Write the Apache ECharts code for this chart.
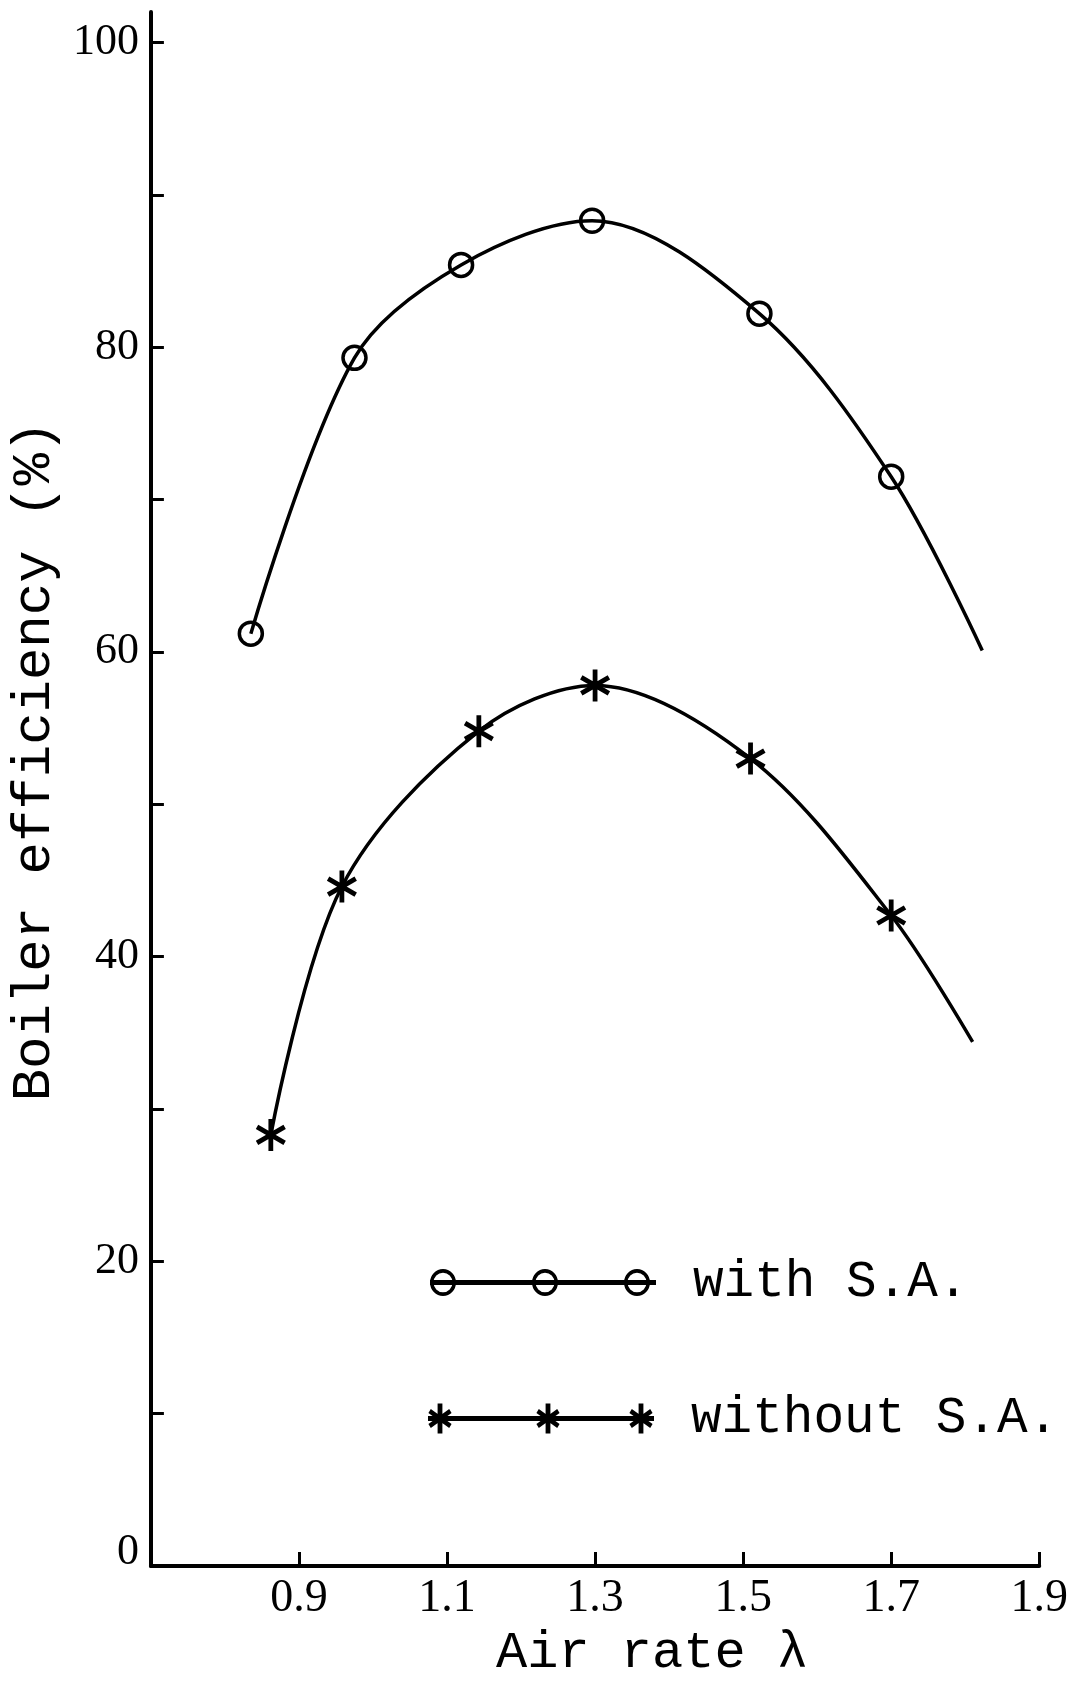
<!DOCTYPE html>
<html><head><meta charset="utf-8">
<script src="https://cdn.jsdelivr.net/npm/echarts@6/dist/echarts.min.js"></script>
<style>html,body{margin:0;padding:0;background:#fff}#c{width:1071px;height:1684px}</style>
</head><body><div id="c"></div>
<script>
// ---- data ----
const seriesNames = ['with S.A.', 'without S.A.'];
// last point of each list = where the drawn curve ends (no marker there)
const withX    = [0.835, 0.975, 1.119, 1.296, 1.522, 1.700, 1.823];
const withY    = [61.2, 79.3, 85.4, 88.3, 82.2, 71.5, 60.1];
const withoutX = [0.862, 0.958, 1.143, 1.300, 1.510, 1.700, 1.810];
const withoutY = [28.3, 44.6, 54.8, 57.8, 53.0, 42.7, 34.4];
const xTicks = [0.9, 1.1, 1.3, 1.5, 1.7, 1.9];
const yTicks = [0, 10, 20, 30, 40, 50, 60, 70, 80, 90, 100];
const yLabels = [0, 20, 40, 60, 80, 100];
const xName = 'Air rate λ';
const yName = 'Boiler efficiency (%)';

// ---- symbol / legend icon shapes ----
function barPath(cx, cy, ang, hlx, hly, hw) {
  const dx = Math.cos(ang), dy = Math.sin(ang), nx = -dy, ny = dx;
  const p = [
    [cx - hlx*dx - hw*nx, cy - hly*dy - hw*ny],
    [cx + hlx*dx - hw*nx, cy + hly*dy - hw*ny],
    [cx + hlx*dx + hw*nx, cy + hly*dy + hw*ny],
    [cx - hlx*dx + hw*nx, cy - hly*dy + hw*ny]
  ];
  return 'M' + p.map(q => q[0].toFixed(2) + ' ' + q[1].toFixed(2)).join(' L') + ' Z ';
}
function starPath(cx, cy, rx, ry, hw) {
  return barPath(cx, cy, Math.PI/2, rx, ry, hw) + barPath(cx, cy, Math.PI/6, rx, ry, hw) + barPath(cx, cy, 5*Math.PI/6, rx, ry, hw);
}
function ringPath(cx, cy, R, r) {
  return 'M' + (cx-R) + ' ' + cy + ' A' + R + ' ' + R + ' 0 1 1 ' + (cx+R) + ' ' + cy +
         ' A' + R + ' ' + R + ' 0 1 1 ' + (cx-R) + ' ' + cy + ' Z ' +
         'M' + (cx-r) + ' ' + cy + ' A' + r + ' ' + r + ' 0 1 0 ' + (cx+r) + ' ' + cy +
         ' A' + r + ' ' + r + ' 0 1 0 ' + (cx-r) + ' ' + cy + ' Z ';
}
const starSymbol = 'path://' + starPath(10, 10, 10, 10, 1.5);
const LW = 226;
const withIcon = 'path://M0 11 L' + LW + ' 11 L' + LW + ' 16 L0 16 Z ' +
  ringPath(13, 13.5, 13, 9.5) + ringPath(115, 13.5, 13, 9.5) + ringPath(207, 13.5, 13, 9.5);
const withoutIcon = 'path://M0 12.5 L' + LW + ' 12.5 L' + LW + ' 17.5 L0 17.5 Z ' +
  starPath(12, 15, 12, 15, 2.4) + starPath(120, 15, 12, 15, 2.4) + starPath(213, 15, 12, 15, 2.4);

function toData(xs, ys) {
  return xs.map((x, i) => i === xs.length - 1 ? {value: [x, ys[i]], symbol: 'none'} : [x, ys[i]]);
}

const chart = echarts.init(document.getElementById('c'), null, {renderer: 'canvas'});
const legendText = {fontFamily: 'Liberation Mono', fontSize: 51, color: '#000', padding: [0, 0, 0, 32]};
chart.setOption({
  animation: false,
  backgroundColor: '#fff',
  grid: {left: 146, top: 12, width: 897, height: 1565, containLabel: false},
  xAxis: {
    type: 'value', min: 0.7, max: 1.9,
    name: xName, nameLocation: 'middle', nameGap: 60,
    nameTextStyle: {fontFamily: 'Liberation Mono', fontSize: 52, color: '#000', padding: [0, 0, 0, 114]},
    axisLine: {show: true, onZero: false, lineStyle: {color: '#000', width: 4}},
    axisTick: {show: true, inside: true, length: 14, lineStyle: {color: '#000', width: 3}, customValues: xTicks},
    axisLabel: {show: true, customValues: xTicks, margin: 10, fontFamily: 'Liberation Serif', fontSize: 46, color: '#000',
                formatter: v => v.toFixed(1)},
    splitLine: {show: false}
  },
  yAxis: {
    type: 'value', min: 0, max: 102,
    name: yName, nameLocation: 'middle', nameGap: 48, nameRotate: 90,
    nameTextStyle: {fontFamily: 'Liberation Mono', fontSize: 54, color: '#000', padding: [0, 0, 0, 56]},
    axisLine: {show: true, lineStyle: {color: '#000', width: 4}},
    axisTick: {show: true, inside: true, length: 13, lineStyle: {color: '#000', width: 3}, customValues: yTicks},
    axisLabel: {show: true, customValues: yLabels, margin: 12, fontFamily: 'Liberation Serif', fontSize: 44, color: '#000',
                formatter: v => v === 0 ? '{z|0}' : String(v),
                rich: {z: {fontFamily: 'Liberation Serif', fontSize: 44, color: '#000', padding: [0, 0, 28, 0]}}},
    splitLine: {show: false}
  },
  legend: [
    {data: [{name: seriesNames[0], icon: withIcon}], left: 425, top: 1252, orient: 'vertical',
     itemWidth: LW, itemHeight: 27, symbolKeepAspect: false, selectedMode: false,
     itemStyle: {color: '#000', borderWidth: 0}, textStyle: legendText},
    {data: [{name: seriesNames[1], icon: withoutIcon}], left: 423, top: 1388, orient: 'vertical',
     itemWidth: LW, itemHeight: 30, symbolKeepAspect: false, selectedMode: false,
     itemStyle: {color: '#000', borderWidth: 0}, textStyle: legendText}
  ],
  series: [
    {name: seriesNames[0], type: 'line', data: toData(withX, withY), smooth: 0.33,
     symbol: 'circle', symbolSize: 23,
     itemStyle: {color: 'rgba(0,0,0,0)', borderColor: '#000', borderWidth: 3.5},
     lineStyle: {color: '#000', width: 3.5}, emphasis: {disabled: true}},
    {name: seriesNames[1], type: 'line', data: toData(withoutX, withoutY), smooth: 0.33,
     symbol: starSymbol, symbolSize: [30, 32],
     itemStyle: {color: '#000'},
     lineStyle: {color: '#000', width: 3.5}, emphasis: {disabled: true}}
  ]
});
</script></body></html>
